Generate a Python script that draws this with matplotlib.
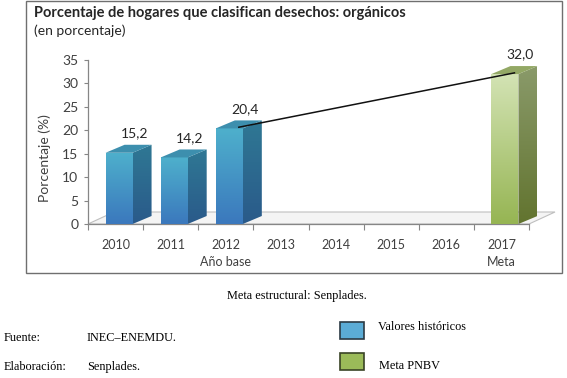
import matplotlib
matplotlib.use('Agg')
import matplotlib.pyplot as plt
import numpy as np
from matplotlib.patches import Polygon, Rectangle
from matplotlib.colors import LinearSegmentedColormap

# data
anios = ['2010', '2011', '2012', '2013', '2014', '2015', '2016', '2017']
sub_etiquetas = ['', '', 'Año base', '', '', '', '', 'Meta']
idx_historicos = [0, 1, 2]
valores_historicos = [15.2, 14.2, 20.4]
idx_meta = [7]
valores_meta = [32.0]
y_ticks = [0, 5, 10, 15, 20, 25, 30, 35]

W, H = 567, 378
fig = plt.figure(figsize=(W / 100, H / 100), dpi=100)

# axes placed in pixel terms
ax_l, ax_b, ax_t = 88, 224, 60
cat_px = 55.125
ax_r = ax_l + 8.5 * cat_px
ax = fig.add_axes([ax_l / W, 1 - ax_b / H, (ax_r - ax_l) / W, (ax_b - ax_t) / H])
ax.set_xlim(-0.5, 8.0)
ax.set_ylim(0, 35)

unit_px = (ax_b - ax_t) / 35.0
bw = 27 / cat_px          # front face width
off = -10 / cat_px        # front left relative to category centre
dx = 19 / cat_px          # depth offsets
dy = 8 / unit_px
fdx = 26 / cat_px         # floor depth
fdy = 12 / unit_px


def grad_poly(verts, c_top, c_bot, z):
    poly = Polygon(verts, closed=True, facecolor='none', edgecolor='none', zorder=z)
    ax.add_patch(poly)
    xs = [v[0] for v in verts]
    ys = [v[1] for v in verts]
    cmap = LinearSegmentedColormap.from_list('g', [c_bot, c_top])
    g = np.linspace(0, 1, 128).reshape(-1, 1)
    im = ax.imshow(g, extent=[min(xs), max(xs), min(ys), max(ys)], origin='lower',
                   cmap=cmap, aspect='auto', zorder=z, interpolation='bilinear')
    im.set_clip_path(poly)


def bar3d(i, v, front, side, top):
    x0 = i + off
    x1 = x0 + bw
    grad_poly([(x0, 0), (x1, 0), (x1, v), (x0, v)], front[0], front[1], 3)
    grad_poly([(x1, 0), (x1 + dx, dy), (x1 + dx, v + dy), (x1, v)], side[0], side[1], 3)
    ax.add_patch(Polygon([(x0, v), (x1, v), (x1 + dx, v + dy), (x0 + dx, v + dy)],
                         closed=True, facecolor=top, edgecolor='none', zorder=3))


# floor
ax.add_patch(Polygon([(-0.5, 0), (7.5, 0), (7.5 + fdx, fdy), (-0.5 + fdx, fdy)],
                     closed=True, facecolor='#f4f4f4', edgecolor='#bfbfbf', lw=0.8, zorder=1))

azul_front = ('#4eb0cc', '#3b78bd')
azul_side = ('#2f7894', '#2a5a8a')
azul_top = '#3d8fae'
verde_front = ('#d3e3b4', '#96b553')
verde_side = ('#8a9a6a', '#62742f')
verde_top = '#93a865'

for i, v in zip(idx_historicos, valores_historicos):
    bar3d(i, v, azul_front, azul_side, azul_top)
for i, v in zip(idx_meta, valores_meta):
    bar3d(i, v, verde_front, verde_side, verde_top)

# value labels
todos_idx = idx_historicos + idx_meta
todos_val = valores_historicos + valores_meta
for i, v in zip(todos_idx, todos_val):
    ax.text(i + off + 29 / cat_px, v + 4.2, f'{v:.1f}'.replace('.', ','),
            ha='center', va='center', fontsize=10, color='#262626', family='Lato', zorder=5)

# trend line from base year to target
i0, v0 = idx_historicos[-1], valores_historicos[-1]
i1, v1 = idx_meta[0], valores_meta[0]
ax.plot([i0 + off + bw / 2 + dx / 2, i1 + off + bw / 2 + dx / 2],
        [v0 + dy / 2 - 0.6, v1 + dy / 2 - 0.6], color='#111111', lw=1.1, zorder=4)

# axes styling
for s in ['top', 'right']:
    ax.spines[s].set_visible(False)
ax.spines['left'].set_bounds(0, 35)
ax.spines['bottom'].set_bounds(-0.5, 7.5)
for s in ['left', 'bottom']:
    ax.spines[s].set_color('#868686')
    ax.spines[s].set_linewidth(0.9)
    ax.spines[s].set_zorder(2)

ax.set_yticks(y_ticks)
ax.set_yticklabels([str(t) for t in y_ticks], family='Lato', fontsize=10, color='#404040')
ax.tick_params(axis='y', length=3, width=0.8, color='#868686', pad=4)

ax.set_xticks(range(len(anios)))
ax.set_xticklabels([a + ('\n' + s if s else '') for a, s in zip(anios, sub_etiquetas)],
                   family='Lato', fontsize=9, color='#404040', linespacing=1.5, va='top')
ax.set_xticks(np.arange(-0.5, 8.0, 1.0), minor=True)
ax.tick_params(axis='x', which='major', length=0, pad=11)
ax.tick_params(axis='x', which='minor', length=4, width=0.8, color='#868686')

ax.set_ylabel('Porcentaje (%)', family='Lato', fontsize=10, color='#404040')
ax.yaxis.set_label_coords(-0.078, 0.4)
ax.patch.set_alpha(0)

# frame around chart
fig.patches.append(Rectangle((26 / W, 1 - 273 / H), (562 - 26) / W, (273 - 1) / H,
                             transform=fig.transFigure, fill=False, edgecolor='#6f6f6f', lw=1.0))

fig.text(34 / W, 1 - 13 / H, 'Porcentaje de hogares que clasifican desechos: orgánicos',
         family='Lato', fontweight='bold', fontsize=10.5, color='#262626', va='center')
fig.text(34 / W, 1 - 31 / H, '(en porcentaje)', family='Lato', fontsize=10,
         color='#262626', va='center')

# footer
serif = 'Liberation Serif'
fs = 8.8
fig.text(297 / W, 1 - 296 / H, 'Meta estructural: Senplades.', family=serif, fontsize=fs,
         ha='center', va='center')
fig.text(4 / W, 1 - 338 / H, 'Fuente:', family=serif, fontsize=fs, va='center')
fig.text(87 / W, 1 - 338 / H, 'INEC–ENEMDU.', family=serif, fontsize=fs, va='center')
fig.text(4 / W, 1 - 367 / H, 'Elaboración:', family=serif, fontsize=fs, va='center')
fig.text(87 / W, 1 - 367 / H, 'Senplades.', family=serif, fontsize=fs, va='center')

fig.patches.append(Rectangle((340 / W, 1 - 339 / H), 24 / W, 17 / H, transform=fig.transFigure,
                             facecolor='#5bacd6', edgecolor='#2b3a44', lw=1.2))
fig.patches.append(Rectangle((340 / W, 1 - 370 / H), 24 / W, 17 / H, transform=fig.transFigure,
                             facecolor='#9bbb59', edgecolor='#3a4426', lw=1.2))
fig.text(378 / W, 1 - 327 / H, 'Valores históricos', family=serif, fontsize=fs, va='center')
fig.text(379 / W, 1 - 366 / H, 'Meta PNBV', family=serif, fontsize=fs, va='center')

fig.savefig('out.png', dpi=100)
